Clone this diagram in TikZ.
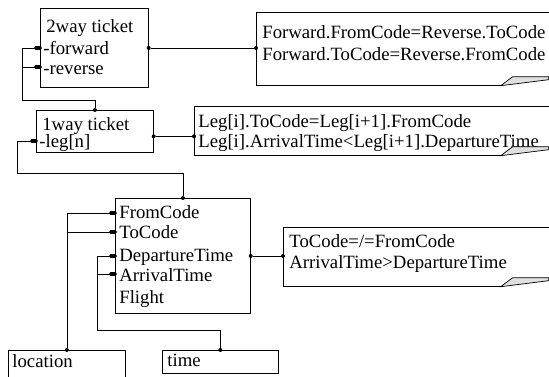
\documentclass[tikz,border=0pt]{standalone}
\usepackage{fontspec}
\setmainfont{Liberation Serif}
\usetikzlibrary{calc, positioning}

\begin{document}
\begin{tikzpicture}[x=0.03cm, y=-0.03cm, line width=0.6pt,
  box/.style={draw, rectangle, anchor=north west, inner sep=0pt},
  note/.style={rectangle, anchor=north west, inner sep=0pt},
  row/.style={anchor=west, inner sep=0pt, text height=0.62em, text depth=0.18em, yshift=-2.5pt,
    font=\fontsize{16}{18}\selectfont},
  linkbar/.style={fill, rounded corners=1pt, minimum width=0.22cm, minimum height=0.11cm, inner sep=0pt},
  joint/.style={circle, fill, inner sep=0pt, minimum size=0.12cm}]
  \useasboundingbox (0,0) rectangle (549,377);

  % classes
  \node[box, minimum width=3.24cm, minimum height=2.37cm] (tw) at (40,8) {};
  \node[box, minimum width=3.51cm, minimum height=1.26cm] (ow) at (36,110) {};
  \node[box, minimum width=4.05cm, minimum height=3.45cm] (leg) at (115,198) {};
  \node[box, minimum width=3.51cm, minimum height=1.35cm] (loc) at (8,350) {};
  \node[box, minimum width=3.48cm, minimum height=0.69cm] (time) at (162,350) {};

  % class texts
  \node[row] (twname) at (46,27) {2way ticket};
  \node[row] (twfwd) at (43,49) {-forward};
  \node[row] (twrev) at (43,69) {-reverse};
  \node[row] (owname) at (42,125) {1way ticket};
  \node[row] (owleg) at (39,142) {-leg[n]};
  \node[row] (legfrom) at (119,213) {FromCode};
  \node[row] (legto) at (119,233) {ToCode};
  \node[row] (legdep) at (119,256) {DepartureTime};
  \node[row] (legarr) at (119,276) {ArrivalTime};
  \node[row] (legflt) at (119,298) {Flight};
  \node[row] (locname) at (12,362) {location};
  \node[row] (timename) at (167,361) {time};

  % constraint notes
  \node[note, minimum width=8.76cm, minimum height=2.19cm] (nA) at (256,12) {};
  \node[note, minimum width=10.62cm, minimum height=1.47cm] (nB) at (194,106) {};
  \node[note, minimum width=7.95cm, minimum height=1.77cm] (nC) at (283,227) {};
  \node[row] (nAone) at (262,33) {Forward.FromCode=Reverse.ToCode};
  \node[row] (nAtwo) at (262,55) {Forward.ToCode=Reverse.FromCode};
  \node[row] (nBone) at (198,122) {Leg[i].ToCode=Leg[i+1].FromCode};
  \node[row] (nBtwo) at (198,142) {Leg[i].ArrivalTime<Leg[i+1].DepartureTime};
  \node[row] (nCone) at (289,242) {ToCode=/=FromCode};
  \node[row] (nCtwo) at (289,263) {ArrivalTime>DepartureTime};
  \foreach \n in {nA,nB,nC} {
    \draw (\n.north east) -- (\n.north west) -- (\n.south west) -- ($(\n.south east)+(-48,0)$);
    \filldraw[fill=gray!25] ($(\n.south east)+(-48,0)$) -- ($(\n.south east)+(-36,-9)$)
      -- ($(\n.south east)+(0,-9)$) -- ($(\n.south east)+(0,-6)$) -- cycle;
  }

  % note links
  \node[joint] (jtw) at (tw.east |- 0,48) {};
  \node[joint] (jnA) at (nA.west |- jtw) {};
  \draw (jtw) -- (jnA);
  \node[joint] (jow) at ($(ow.east)+(0,5)$) {};
  \node[joint] (jnB) at (nB.west |- jow) {};
  \draw (jow) -- (jnB);
  \node[joint] (jleg) at (leg.east |- 0,256) {};
  \node[joint] (jnC) at (nC.west |- jleg) {};
  \draw (jleg) -- (jnC);

  % attribute links
  \node[linkbar] (kfwd) at (38,48) {};
  \node[linkbar] (krev) at (38,67) {};
  \node[joint] (jowtop) at (ow.north) {};
  \draw (kfwd.center) -- ++(-16,0) |- ($(jowtop)+(0,-10)$) -- (jowtop);
  \draw (krev.center) -- ++(-16,0);

  \node[linkbar] (kleg) at (34,141) {};
  \node[joint] (jlegtop) at (leg.north) {};
  \draw (kleg.center) -- ++(-17,0) |- ($(jlegtop)+(0,-25)$) -- (jlegtop);

  \node[linkbar] (kfrom) at (113,213) {};
  \node[linkbar] (kto) at (113,232) {};
  \node[joint] (jloc) at (loc.north) {};
  \draw (kfrom.center) -| (jloc);
  \draw (kto.center) -- (kto.center -| jloc);

  \node[linkbar] (kdep) at (113,256) {};
  \node[linkbar] (karr) at (113,274) {};
  \node[joint] (jtime) at (time.north) {};
  \draw (kdep.center) -- ++(-16,0) |- ($(jtime)+(0,-20)$) -- (jtime);
  \draw (karr.center) -- ++(-16,0);
\end{tikzpicture}
\end{document}
